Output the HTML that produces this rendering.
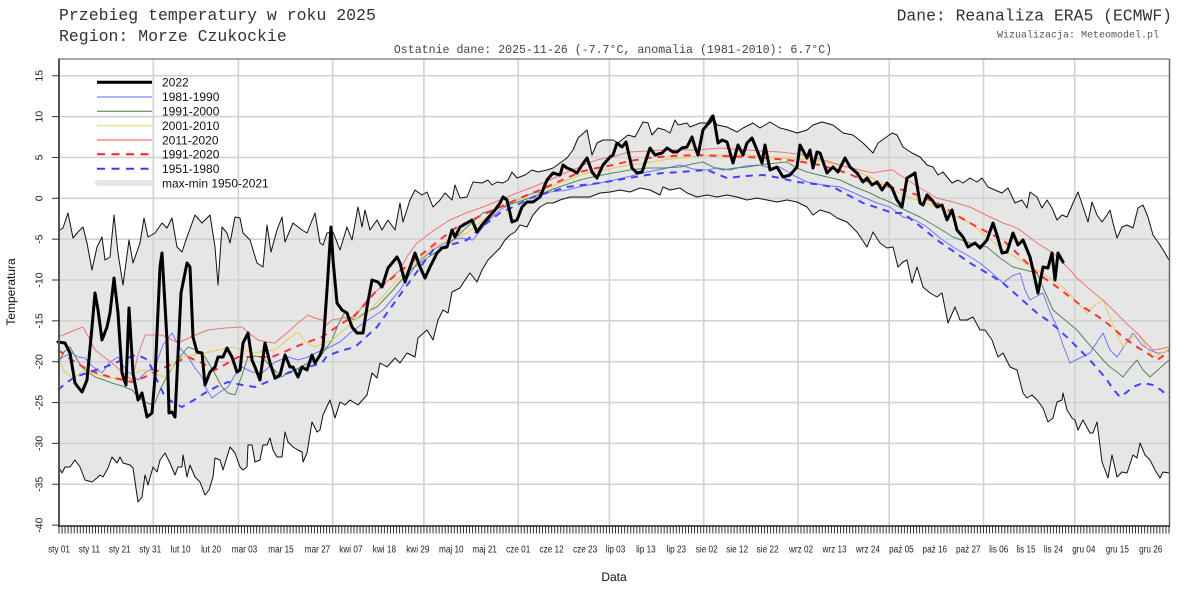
<!DOCTYPE html>
<html>
<head>
<meta charset="utf-8">
<style>
html,body{margin:0;padding:0;background:#fff;}
svg{display:block;}
.mono{font-family:"Liberation Mono","DejaVu Sans Mono",monospace;}
.sans{font-family:"Liberation Sans","DejaVu Sans",sans-serif;}
</style>
</head>
<body>
<svg width="1200" height="600" viewBox="0 0 1200 600" xmlns="http://www.w3.org/2000/svg">
<rect x="0" y="0" width="1200" height="600" fill="#fff"/>

<!-- Titles -->
<text class="mono" x="59" y="20" font-size="16.5" fill="#333">Przebieg temperatury w roku 2025</text>
<text class="mono" x="59" y="41" font-size="16.5" fill="#333">Region: Morze Czukockie</text>
<text class="mono" x="1172" y="20.5" font-size="16.4" fill="#333" text-anchor="end">Dane: Reanaliza ERA5 (ECMWF)</text>
<text class="mono" x="1159" y="37.5" font-size="10" fill="#555" text-anchor="end">Wizualizacja: Meteomodel.pl</text>
<text class="mono" x="613" y="53" font-size="11.6" fill="#444" text-anchor="middle">Ostatnie dane: 2025-11-26 (-7.7°C, anomalia (1981-2010): 6.7°C)</text>

<!-- Max-min band -->
<polygon fill="#e6e6e6" stroke="none" points="58,231 63,228 68,213 73,238 78,232 83,227 87,243 92,270 97,247 102,237 105,260 110,257 114,215 118,253 123,285 129,240 133,263 140,243 144,218 148,237 155,233 162,223 167,228 172,218 177,247 182,252 187,237 195,215 202,223 210,215 215,247 218,285 222,227 227,233 230,243 235,217 240,218 243,233 250,240 257,263 263,267 267,225 271,252 277,230 282,217 285,242 293,223 302,230 307,233 315,213 320,243 323,245 327,233 333,232 340,250 347,227 352,240 358,207 362,227 365,210 370,230 377,220 382,230 388,220 395,230 400,203 403,222 410,200 415,190 422,195 427,192 433,207 440,200 445,193 452,200 455,185 460,198 467,197 473,182 482,183 488,180 492,185 497,182 503,183 508,180 512,172 517,178 525,175 532,170 538,172 547,170 553,168 560,163 567,158 573,150 578,138 587,130 592,155 597,143 603,140 613,140 618,143 628,135 635,137 643,122 648,123 652,135 658,128 665,130 670,133 675,120 678,125 687,123 690,127 700,123 707,123 712,115 717,125 727,127 737,132 743,128 753,123 760,128 770,122 780,128 788,130 797,133 807,130 813,125 822,122 833,125 843,133 853,135 863,143 873,153 878,143 885,138 892,133 897,135 903,147 912,153 920,157 927,165 933,167 938,175 943,172 952,183 958,180 963,183 970,178 977,182 982,178 988,187 995,190 1002,193 1008,188 1015,203 1022,200 1027,208 1030,192 1037,197 1042,208 1047,200 1052,208 1057,220 1062,215 1067,217 1073,203 1078,192 1083,207 1088,222 1092,202 1097,215 1102,222 1107,215 1110,210 1113,223 1117,238 1122,227 1127,225 1133,228 1138,208 1143,205 1148,217 1153,235 1160,245 1165,253 1169,260 1169,473 1163,472 1160,478 1155,470 1150,460 1145,455 1140,443 1137,458 1133,455 1127,473 1122,472 1117,477 1112,455 1108,478 1102,462 1097,422 1093,433 1090,433 1083,420 1078,430 1075,420 1072,418 1067,410 1063,393 1062,400 1057,402 1053,418 1048,422 1043,408 1037,400 1032,395 1027,398 1023,393 1017,370 1010,367 1003,353 998,357 992,340 985,330 980,330 973,317 967,320 960,320 955,307 948,323 942,293 937,297 930,293 923,287 917,267 912,283 907,260 903,262 898,267 893,247 887,248 880,243 873,232 867,247 857,232 847,222 837,218 830,213 820,210 813,215 807,207 797,202 787,200 777,202 767,200 757,198 747,200 737,197 727,195 717,197 707,195 697,197 687,193 680,188 670,190 663,187 660,195 650,190 640,188 630,192 620,190 610,192 600,193 590,197 580,197 570,197 560,200 553,203 547,203 540,207 533,215 527,227 520,225 515,232 510,235 505,240 500,248 495,253 488,260 482,270 477,282 470,273 465,280 460,288 452,292 448,313 443,310 438,320 433,340 427,330 418,338 415,357 407,353 400,363 395,358 387,367 380,363 377,378 372,373 367,395 358,405 350,400 345,405 340,402 335,418 330,400 323,415 320,430 317,432 312,422 307,453 303,462 302,452 298,450 293,447 288,442 285,432 282,457 277,457 273,450 270,438 267,445 263,445 260,460 255,462 252,445 248,445 247,467 243,470 240,467 235,453 230,447 223,470 220,460 215,458 213,477 209,490 205,495 200,482 195,477 190,465 187,477 183,455 182,467 178,467 175,475 170,463 165,453 160,460 157,472 153,467 148,485 145,475 142,497 138,502 133,468 130,465 123,463 120,457 117,463 112,457 108,468 103,477 100,475 97,478 92,482 85,480 80,467 75,460 70,467 65,467 62,473 59,468"/>

<!-- Grid -->
<g stroke="#d2d2d2" stroke-width="1.6" fill="none">
  <line x1="59" x2="1169" y1="75.75" y2="75.75"/>
  <line x1="59" x2="1169" y1="116.6" y2="116.6"/>
  <line x1="59" x2="1169" y1="157.45" y2="157.45"/>
  <line x1="59" x2="1169" y1="198.3" y2="198.3"/>
  <line x1="59" x2="1169" y1="239.15" y2="239.15"/>
  <line x1="59" x2="1169" y1="280" y2="280"/>
  <line x1="59" x2="1169" y1="320.85" y2="320.85"/>
  <line x1="59" x2="1169" y1="361.7" y2="361.7"/>
  <line x1="59" x2="1169" y1="402.55" y2="402.55"/>
  <line x1="59" x2="1169" y1="443.4" y2="443.4"/>
  <line x1="59" x2="1169" y1="484.25" y2="484.25"/>
  <line y1="59" y2="526" x1="153.3" x2="153.3"/>
  <line y1="59" y2="526" x1="238.4" x2="238.4"/>
  <line y1="59" y2="526" x1="332.7" x2="332.7"/>
  <line y1="59" y2="526" x1="423.9" x2="423.9"/>
  <line y1="59" y2="526" x1="518.2" x2="518.2"/>
  <line y1="59" y2="526" x1="609.4" x2="609.4"/>
  <line y1="59" y2="526" x1="703.7" x2="703.7"/>
  <line y1="59" y2="526" x1="798" x2="798"/>
  <line y1="59" y2="526" x1="889.2" x2="889.2"/>
  <line y1="59" y2="526" x1="983.5" x2="983.5"/>
  <line y1="59" y2="526" x1="1074.7" x2="1074.7"/>
</g>

<!-- Climatology lines -->
<g fill="none" stroke-linejoin="round" stroke-linecap="round">
  <!-- 1981-1990 blue thin -->
  <polyline stroke="#7373ff" stroke-width="1" points="58,360 65,356 72,353 78,357 85,358 92,366 102,373 110,362 118,357 126,370 138,380 146,372 155,367 163,345 172,333 180,348 188,357 195,368 202,377 207,390 212,398 220,392 228,387 235,375 242,367 252,372 262,373 275,362 288,357 298,360 308,357 318,352 328,348 340,342 350,333 365,322 383,310 400,290 417,263 433,250 450,240 462,238 473,240 487,222 500,210 517,200 533,193 550,192 567,190 583,186 600,183 623,178 647,172 663,169 680,165 693,169 707,170 718,168 730,170 745,166 760,165 770,168 780,167 793,175 807,182 823,185 840,187 852,192 863,197 877,203 890,207 903,217 915,220 927,227 940,238 953,247 967,255 980,263 992,273 1003,283 1012,276 1020,273 1025,290 1030,300 1037,296 1043,293 1050,312 1057,327 1063,345 1070,363 1080,358 1090,353 1097,342 1103,333 1110,350 1117,357 1125,345 1133,333 1142,345 1150,350 1157,353 1163,353 1169,350"/>
  <!-- 1991-2000 green -->
  <polyline stroke="#4f8a4f" stroke-width="1" points="58,363 64,352 70,347 76,358 82,367 88,372 95,377 104,380 112,383 122,386 132,390 139,398 145,402 150,404 155,403 160,390 165,380 176,362 188,347 196,350 205,357 214,372 222,387 228,393 235,395 241,378 248,357 255,356 262,357 272,368 282,377 288,372 295,370 306,364 318,360 325,350 332,340 338,325 345,312 350,318 355,320 366,312 377,307 393,290 410,270 430,256 450,243 466,228 483,213 508,205 533,197 556,188 580,180 597,176 613,173 630,170 647,168 663,168 680,167 692,164 703,162 713,167 723,170 735,168 747,167 767,164 787,162 797,168 807,172 823,176 840,180 855,187 870,193 880,198 890,202 905,210 920,217 937,227 953,237 970,243 987,247 1000,258 1013,267 1025,270 1037,273 1045,292 1053,310 1065,320 1077,330 1087,342 1097,353 1104,361 1110,367 1117,372 1123,377 1130,368 1137,360 1143,370 1150,377 1160,368 1169,360"/>
  <!-- 2001-2010 yellow -->
  <polyline stroke="#e8cb4e" stroke-width="1" points="58,357 62,366 65,373 70,376 75,377 82,372 88,370 96,374 105,377 114,378 122,378 134,373 145,370 155,374 165,377 174,366 182,357 194,355 205,353 218,350 232,347 244,350 255,353 265,351 275,350 287,340 298,332 306,342 315,347 324,343 332,340 344,330 355,320 367,313 384,295 400,277 416,262 433,247 450,240 467,233 483,220 500,207 525,197 550,187 565,181 580,175 597,171 613,168 630,165 647,163 663,160 680,158 697,156 713,155 730,155 747,155 763,156 780,158 797,159 813,160 830,163 847,167 858,172 870,177 887,186 903,195 920,201 937,207 953,215 970,223 987,237 1003,250 1012,255 1020,260 1028,265 1037,270 1050,278 1063,287 1075,300 1087,313 1095,305 1103,300 1113,325 1123,347 1130,340 1137,333 1145,345 1153,357 1160,354 1169,350"/>
  <!-- 2011-2020 red thin -->
  <polyline stroke="#f07575" stroke-width="1" points="58,337 63,335 68,333 75,330 83,327 89,338 95,350 104,357 112,363 122,372 132,380 138,355 145,335 153,335 162,335 170,339 178,343 193,336 208,330 225,328 242,327 250,334 258,340 266,342 275,343 282,337 288,332 298,323 308,315 315,318 322,320 327,325 332,320 343,318 355,317 361,308 367,300 383,285 400,270 408,255 417,243 433,231 450,220 466,213 483,207 500,200 517,193 533,187 550,180 565,173 580,167 588,163 597,160 605,158 613,157 622,154 630,152 647,151 663,150 680,150 697,150 708,149 720,148 733,149 747,150 763,151 780,152 797,154 813,157 830,162 847,167 860,170 873,173 883,171 893,170 898,174 903,177 920,188 937,198 953,202 970,207 980,212 990,217 997,220 1003,223 1012,226 1020,230 1028,236 1037,243 1045,248 1053,253 1062,262 1070,270 1078,279 1087,287 1095,294 1103,300 1112,309 1120,317 1128,325 1137,333 1145,342 1153,350 1160,349 1169,347"/>
  <!-- 1991-2020 red dashed -->
  <polyline stroke="#ff3333" stroke-width="2" stroke-dasharray="7,6" stroke-linecap="butt" points="58,350 72,360 88,370 110,377 132,382 145,377 155,372 172,364 188,357 202,363 215,370 226,364 238,357 255,357 272,357 284,352 295,347 308,342 322,337 338,326 355,315 366,303 377,290 402,270 427,250 442,238 457,227 478,217 500,207 520,198 540,190 560,181 580,172 597,168 613,165 630,161 647,158 672,156 697,155 722,156 747,157 767,158 787,160 803,162 820,165 833,169 847,173 863,180 880,185 903,190 920,196 937,203 953,213 970,223 987,232 1003,240 1020,256 1037,273 1047,280 1057,287 1070,297 1083,307 1093,313 1103,320 1113,328 1123,337 1130,342 1137,347 1147,353 1157,360 1163,356 1169,350"/>
  <!-- 1951-1980 blue dashed -->
  <polyline stroke="#4242ff" stroke-width="2" stroke-dasharray="7,6" stroke-linecap="butt" points="58,390 66,383 75,377 90,372 105,367 120,361 135,355 142,357 148,360 156,378 165,397 174,403 182,407 194,400 205,393 216,387 228,382 242,385 255,387 272,380 288,373 305,368 322,363 327,356 340,351 355,347 366,337 377,327 405,288 433,250 450,245 467,240 483,226 500,213 517,205 533,197 550,192 567,187 583,185 600,183 623,179 647,175 663,173 680,172 693,171 707,170 717,174 727,178 745,176 763,175 780,178 797,182 815,184 833,187 848,195 863,203 878,208 893,213 903,213 920,226 937,240 953,251 970,263 987,273 1003,283 1020,298 1037,313 1047,320 1057,328 1072,342 1087,357 1097,368 1107,380 1113,389 1120,397 1127,392 1133,387 1143,383 1153,385 1161,390 1169,397"/>
</g>

<!-- Max and min lines -->
<g fill="none" stroke="#111" stroke-width="1" stroke-linejoin="round">
  <polyline points="58,231 63,228 68,213 73,238 78,232 83,227 87,243 92,270 97,247 102,237 105,260 110,257 114,215 118,253 123,285 129,240 133,263 140,243 144,218 148,237 155,233 162,223 167,228 172,218 177,247 182,252 187,237 195,215 202,223 210,215 215,247 218,285 222,227 227,233 230,243 235,217 240,218 243,233 250,240 257,263 263,267 267,225 271,252 277,230 282,217 285,242 293,223 302,230 307,233 315,213 320,243 323,245 327,233 333,232 340,250 347,227 352,240 358,207 362,227 365,210 370,230 377,220 382,230 388,220 395,230 400,203 403,222 410,200 415,190 422,195 427,192 433,207 440,200 445,193 452,200 455,185 460,198 467,197 473,182 482,183 488,180 492,185 497,182 503,183 508,180 512,172 517,178 525,175 532,170 538,172 547,170 553,168 560,163 567,158 573,150 578,138 587,130 592,155 597,143 603,140 613,140 618,143 628,135 635,137 643,122 648,123 652,135 658,128 665,130 670,133 675,120 678,125 687,123 690,127 700,123 707,123 712,115 717,125 727,127 737,132 743,128 753,123 760,128 770,122 780,128 788,130 797,133 807,130 813,125 822,122 833,125 843,133 853,135 863,143 873,153 878,143 885,138 892,133 897,135 903,147 912,153 920,157 927,165 933,167 938,175 943,172 952,183 958,180 963,183 970,178 977,182 982,178 988,187 995,190 1002,193 1008,188 1015,203 1022,200 1027,208 1030,192 1037,197 1042,208 1047,200 1052,208 1057,220 1062,215 1067,217 1073,203 1078,192 1083,207 1088,222 1092,202 1097,215 1102,222 1107,215 1110,210 1113,223 1117,238 1122,227 1127,225 1133,228 1138,208 1143,205 1148,217 1153,235 1160,245 1165,253 1169,260"/>
  <polyline points="59,468 62,473 65,467 70,467 75,460 80,467 85,480 92,482 97,478 100,475 103,477 108,468 112,457 117,463 120,457 123,463 130,465 133,468 138,502 142,497 145,475 148,485 153,467 157,472 160,460 165,453 170,463 175,475 178,467 182,467 183,455 187,477 190,465 195,477 200,482 205,495 209,490 213,477 215,458 220,460 223,470 230,447 235,453 240,467 243,470 247,467 248,445 252,445 255,462 260,460 263,445 267,445 270,438 273,450 277,457 282,457 285,432 288,442 293,447 298,450 302,452 303,462 307,453 312,422 317,432 320,430 323,415 330,400 335,418 340,402 345,405 350,400 358,405 367,395 372,373 377,378 380,363 387,367 395,358 400,363 407,353 415,357 418,338 427,330 433,340 438,320 443,310 448,313 452,292 460,288 465,280 470,273 477,282 482,270 488,260 495,253 500,248 505,240 510,235 515,232 520,225 527,227 533,215 540,207 547,203 553,203 560,200 570,197 580,197 590,197 600,193 610,192 620,190 630,192 640,188 650,190 660,195 663,187 670,190 680,188 687,193 697,197 707,195 717,197 727,195 737,197 747,200 757,198 767,200 777,202 787,200 797,202 807,207 813,215 820,210 830,213 837,218 847,222 857,232 867,247 873,232 880,243 887,248 893,247 898,267 903,262 907,260 912,283 917,267 923,287 930,293 937,297 942,293 948,323 955,307 960,320 967,320 973,317 980,330 985,330 992,340 998,357 1003,353 1010,367 1017,370 1023,393 1027,398 1032,395 1037,400 1043,408 1048,422 1053,418 1057,402 1062,400 1063,393 1067,410 1072,418 1075,420 1078,430 1083,420 1090,433 1093,433 1097,422 1102,462 1108,478 1112,455 1117,477 1122,472 1127,473 1133,455 1137,458 1140,443 1145,455 1150,460 1155,470 1160,478 1163,472 1169,473"/>
</g>

<!-- 2022 thick black -->
<polyline fill="none" stroke="#000" stroke-width="3" stroke-linejoin="round" stroke-linecap="round" points="58,342 65,343 70,353 75,383 78,387 82,392 87,380 92,327 95,293 98,310 102,340 107,327 110,313 114,278 118,313 122,373 126,385 129,308 133,373 138,400 142,393 147,417 152,413 155,377 160,267 162,253 167,340 169,413 172,412 175,417 181,293 187,263 190,267 193,337 197,352 202,353 205,385 210,372 215,367 218,357 223,357 227,348 232,357 237,372 240,370 243,343 248,333 252,360 255,367 260,380 265,343 270,363 275,378 280,375 285,355 290,367 293,367 298,377 302,367 307,370 312,355 315,363 320,355 323,347 327,290 331,227 333,260 337,303 342,310 347,313 352,327 357,333 363,333 367,307 372,280 378,282 382,287 388,268 397,257 400,263 405,282 408,273 415,253 420,267 425,278 430,267 437,253 442,248 447,247 452,230 455,237 460,227 467,223 472,220 477,232 482,225 488,218 495,210 500,203 503,197 507,200 512,222 517,220 522,207 527,202 533,202 540,197 547,180 553,173 560,175 563,165 567,168 572,170 577,173 582,165 587,158 592,172 597,178 603,165 610,157 613,155 617,143 622,147 626,142 632,168 637,173 642,172 647,157 650,148 655,155 662,153 667,148 673,152 677,152 682,148 687,147 692,137 695,147 698,155 703,130 707,125 710,122 713,116 715,125 718,143 722,140 727,142 733,163 738,145 743,155 747,143 752,138 757,150 762,163 765,145 770,170 777,167 783,177 790,175 797,167 800,145 807,158 810,150 813,168 817,152 820,153 827,173 833,167 838,172 845,158 850,167 857,173 863,182 867,178 872,185 877,182 882,190 887,183 892,188 897,200 902,207 907,178 912,175 915,173 920,203 923,205 927,195 932,200 937,207 942,205 947,220 952,210 957,230 963,237 968,247 975,243 980,248 987,240 993,223 997,235 1002,253 1007,252 1013,233 1018,245 1023,240 1030,257 1033,270 1038,293 1043,267 1048,268 1052,253 1055,280 1058,253 1063,262"/>

<!-- Plot frame -->
<line x1="59" y1="59" x2="1169.5" y2="59" stroke="#8a8a8a" stroke-width="1.5"/>
<line x1="1169.5" y1="59" x2="1169.5" y2="526" stroke="#666" stroke-width="1.5"/>
<line x1="59" y1="58.5" x2="59" y2="526.5" stroke="#555" stroke-width="2"/>
<line x1="58" y1="526" x2="1170" y2="526" stroke="#222" stroke-width="1.5"/>

<!-- Day ticks -->
<line x1="58.5" y1="530" x2="1170" y2="530" stroke="#333" stroke-width="7" stroke-dasharray="1,2.041"/>

<!-- Y ticks -->
<g stroke="#333" stroke-width="1">
  <line x1="52" x2="59" y1="75.75" y2="75.75"/>
  <line x1="52" x2="59" y1="116.6" y2="116.6"/>
  <line x1="52" x2="59" y1="157.45" y2="157.45"/>
  <line x1="52" x2="59" y1="198.3" y2="198.3"/>
  <line x1="52" x2="59" y1="239.15" y2="239.15"/>
  <line x1="52" x2="59" y1="280" y2="280"/>
  <line x1="52" x2="59" y1="320.85" y2="320.85"/>
  <line x1="52" x2="59" y1="361.7" y2="361.7"/>
  <line x1="52" x2="59" y1="402.55" y2="402.55"/>
  <line x1="52" x2="59" y1="443.4" y2="443.4"/>
  <line x1="52" x2="59" y1="484.25" y2="484.25"/>
  <line x1="52" x2="59" y1="525.1" y2="525.1"/>
</g>
<g class="sans" font-size="10.5" fill="#222" text-anchor="middle">
  <text transform="translate(42.5,75.75) rotate(-90)">15</text>
  <text transform="translate(42.5,116.6) rotate(-90)">10</text>
  <text transform="translate(42.5,157.45) rotate(-90)">5</text>
  <text transform="translate(42.5,198.3) rotate(-90)">0</text>
  <text transform="translate(42.5,239.15) rotate(-90)">-5</text>
  <text transform="translate(42.5,280) rotate(-90)">-10</text>
  <text transform="translate(42.5,320.85) rotate(-90)">-15</text>
  <text transform="translate(42.5,361.7) rotate(-90)">-20</text>
  <text transform="translate(42.5,402.55) rotate(-90)">-25</text>
  <text transform="translate(42.5,443.4) rotate(-90)">-30</text>
  <text transform="translate(42.5,484.25) rotate(-90)">-35</text>
  <text transform="translate(42.5,525.1) rotate(-90)">-40</text>
</g>

<!-- X labels -->
<g class="sans" font-size="10.5" fill="#222" text-anchor="middle">
  <text transform="translate(59,552.5) scale(0.78,1)">sty 01</text>
  <text transform="translate(89.4,552.5) scale(0.78,1)">sty 11</text>
  <text transform="translate(119.8,552.5) scale(0.78,1)">sty 21</text>
  <text transform="translate(150.2,552.5) scale(0.78,1)">sty 31</text>
  <text transform="translate(180.6,552.5) scale(0.78,1)">lut 10</text>
  <text transform="translate(211.1,552.5) scale(0.78,1)">lut 20</text>
  <text transform="translate(244.5,552.5) scale(0.78,1)">mar 03</text>
  <text transform="translate(281,552.5) scale(0.78,1)">mar 15</text>
  <text transform="translate(317.5,552.5) scale(0.78,1)">mar 27</text>
  <text transform="translate(350.9,552.5) scale(0.78,1)">kwi 07</text>
  <text transform="translate(384.4,552.5) scale(0.78,1)">kwi 18</text>
  <text transform="translate(417.8,552.5) scale(0.78,1)">kwi 29</text>
  <text transform="translate(451.3,552.5) scale(0.78,1)">maj 10</text>
  <text transform="translate(484.7,552.5) scale(0.78,1)">maj 21</text>
  <text transform="translate(518.2,552.5) scale(0.78,1)">cze 01</text>
  <text transform="translate(551.6,552.5) scale(0.78,1)">cze 12</text>
  <text transform="translate(585.1,552.5) scale(0.78,1)">cze 23</text>
  <text transform="translate(615.5,552.5) scale(0.78,1)">lip 03</text>
  <text transform="translate(645.9,552.5) scale(0.78,1)">lip 13</text>
  <text transform="translate(676.3,552.5) scale(0.78,1)">lip 23</text>
  <text transform="translate(706.7,552.5) scale(0.78,1)">sie 02</text>
  <text transform="translate(737.1,552.5) scale(0.78,1)">sie 12</text>
  <text transform="translate(767.6,552.5) scale(0.78,1)">sie 22</text>
  <text transform="translate(801,552.5) scale(0.78,1)">wrz 02</text>
  <text transform="translate(834.5,552.5) scale(0.78,1)">wrz 13</text>
  <text transform="translate(867.9,552.5) scale(0.78,1)">wrz 24</text>
  <text transform="translate(901.4,552.5) scale(0.78,1)">paź 05</text>
  <text transform="translate(934.8,552.5) scale(0.78,1)">paź 16</text>
  <text transform="translate(968.3,552.5) scale(0.78,1)">paź 27</text>
  <text transform="translate(998.7,552.5) scale(0.78,1)">lis 06</text>
  <text transform="translate(1026,552.5) scale(0.78,1)">lis 15</text>
  <text transform="translate(1053.4,552.5) scale(0.78,1)">lis 24</text>
  <text transform="translate(1083.8,552.5) scale(0.78,1)">gru 04</text>
  <text transform="translate(1117.3,552.5) scale(0.78,1)">gru 15</text>
  <text transform="translate(1150.7,552.5) scale(0.78,1)">gru 26</text>
</g>

<!-- Axis titles -->
<text class="sans" x="614" y="581" font-size="12" fill="#111" text-anchor="middle">Data</text>
<text class="sans" transform="translate(15,292) rotate(-90)" font-size="12" fill="#111" text-anchor="middle">Temperatura</text>

<!-- Legend -->
<g fill="none">
  <line x1="97" x2="152" y1="82.3" y2="82.3" stroke="#000" stroke-width="3"/>
  <line x1="97" x2="152" y1="97" y2="97" stroke="#8080ff" stroke-width="1.2"/>
  <line x1="97" x2="152" y1="111.3" y2="111.3" stroke="#3f7f3f" stroke-width="1"/>
  <line x1="97" x2="152" y1="125.7" y2="125.7" stroke="#f0d060" stroke-width="1"/>
  <line x1="97" x2="152" y1="140" y2="140" stroke="#ff7070" stroke-width="1.2"/>
  <line x1="97" x2="152" y1="154.3" y2="154.3" stroke="#ff2020" stroke-width="2" stroke-dasharray="8,6.5"/>
  <line x1="97" x2="152" y1="168.7" y2="168.7" stroke="#3838ff" stroke-width="2" stroke-dasharray="8,6.5"/>
  <line x1="98" x2="151" y1="183" y2="183" stroke="#e6e6e6" stroke-width="6" stroke-linecap="round"/>
</g>
<g class="sans" font-size="12" fill="#111">
  <text x="162" y="86.5">2022</text>
  <text x="162" y="101">1981-1990</text>
  <text x="162" y="115.5">1991-2000</text>
  <text x="162" y="130">2001-2010</text>
  <text x="162" y="144.3">2011-2020</text>
  <text x="162" y="158.7">1991-2020</text>
  <text x="162" y="173">1951-1980</text>
  <text x="162" y="187.4">max-min 1950-2021</text>
</g>
</svg>
</body>
</html>
